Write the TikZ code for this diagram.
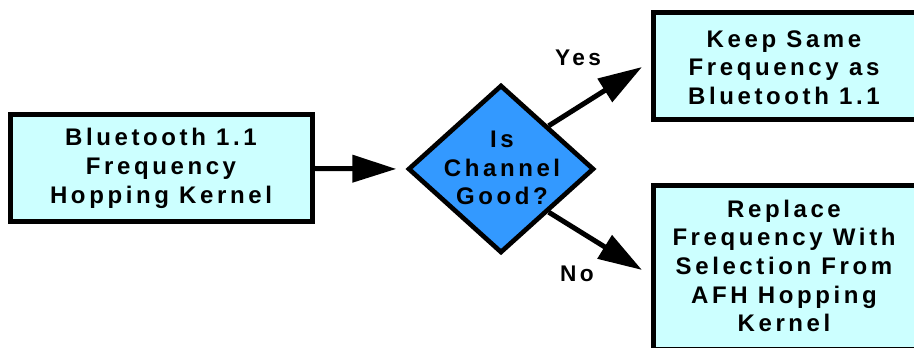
\documentclass[tikz,border=0pt]{standalone}
\usepackage{fontspec}
\setmainfont{Liberation Sans}[LetterSpace=15]
\usetikzlibrary{shapes.geometric,arrows.meta}
\definecolor{boxfill}{HTML}{CCFFFF}
\definecolor{diafill}{HTML}{3399FF}
\begin{document}
\begin{tikzpicture}[x=0.75pt,y=-0.75pt,
  txt/.style={font=\fontsize{18pt}{21.5pt}\selectfont\bfseries, align=center, inner sep=0pt},
  procbox/.style={draw=black, line width=3.75pt, fill=boxfill, inner sep=0pt},
  decbox/.style={diamond, draw=black, line width=3.5pt, fill=diafill, inner sep=0pt, minimum width=139.5pt, minimum height=126pt},
  flow/.style={line width=3.75pt, -{Triangle[length=33pt,width=20pt]}},
  lab/.style={font=\fontsize{17pt}{20pt}\selectfont\bfseries, inner sep=0pt}]
\useasboundingbox (0,0) rectangle (914,348);
\clip (0,0) rectangle (914,348);
\node[procbox, minimum width=226.5pt, minimum height=80.25pt] (kern) at (161,168.5) {};
\node[txt] (kernt) at (kern.center) {Bluetooth 1.1\\Frequency\\Hopping Kernel};
\node[decbox] (dec) at (501,169) {};
\node[txt] (dect) at (502,168) {Is\\Channel\\Good?};
\node[procbox, minimum width=198pt, minimum height=80.25pt] (keep) at (785,66.5) {};
\node[txt] (keept) at (784,67.5) {Keep Same\\Frequency as\\Bluetooth 1.1};
\node[procbox, minimum width=198pt, minimum height=123pt] (repl) at (785,268) {};
\node[txt] (replt) at (784,266) {Replace\\Frequency With\\Selection From\\AFH Hopping\\Kernel};
\coordinate (yestip) at (642,67);
\coordinate (notip) at (642,270);
\draw[flow, shorten >=7pt] (kern.east) -- (dec.west);
\draw[flow] (dec.north east) -- (yestip);
\draw[flow] (dec.south east) -- (notip);
\node[lab] (yes) at (578,57.5) {Yes};
\node[lab] (no) at (577,273.5) {No};
\end{tikzpicture}
\end{document}
